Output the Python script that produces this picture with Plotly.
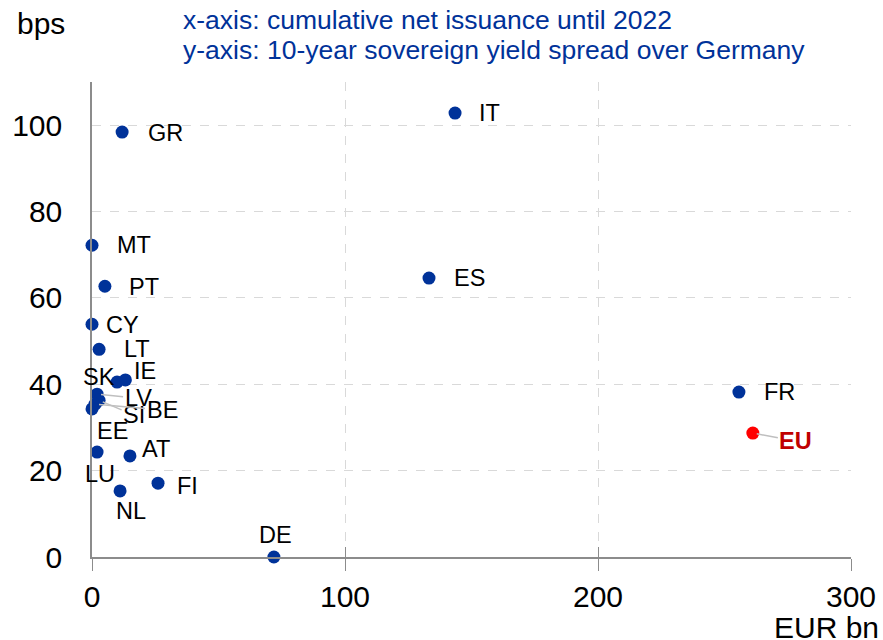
import plotly.graph_objects as go

# ---- data ----
countries = ["IT", "GR", "MT", "ES", "PT", "CY", "LT", "SK", "IE", "LV",
             "SI", "BE", "EE", "LU", "AT", "FI", "NL", "DE", "FR"]
issuance = [143.5, 11.9, 0.0, 133.2, 5.1, 0.0, 2.8, 9.9, 13.2, 2.0,
            2.8, 1.2, 0.0, 2.0, 15.0, 26.1, 11.1, 71.9, 255.7]
spread = [102.8, 98.4, 72.2, 64.6, 62.7, 53.9, 48.1, 40.5, 41.0, 37.7,
          36.3, 35.4, 34.3, 24.3, 23.4, 17.1, 15.3, 0.0, 38.2]
eu_label = ["EU"]
eu_issuance = [261.2]
eu_spread = [28.7]
x_ticks = [0, 100, 200, 300]
y_ticks = [0, 20, 40, 60, 80, 100]

# ---- styles ----
BLUE = "#003299"
FONT = "Arial, Liberation Sans, sans-serif"
GRID = "#d9d9d9"
AXIS = "#8c8c8c"
LBL = 23.5

# label placement: (xanchor, xshift, yshift) in pixels
label_pos = {
    "IT": ("left", 22, 0), "GR": ("left", 24, -1), "MT": ("left", 23, 0),
    "ES": ("left", 23, 0), "PT": ("left", 22, -1), "CY": ("left", 12, -1),
    "LT": ("left", 23, 0), "SK": ("right", 0, 5), "IE": ("left", 7, 9),
    "EE": ("center", 20, -22), "LU": ("center", 3, -22), "AT": ("left", 10, 7),
    "FI": ("left", 17, -3), "NL": ("center", 11, -20), "DE": ("center", 2, 22),
    "FR": ("left", 23, 0),
}
# labels with leader lines: (ax, ay) text-centre offsets in pixels
leader_pos = {"LV": (41, 4), "SI": (35, 15), "BE": (67, 6)}

fig = go.Figure()
fig.add_trace(go.Scatter(
    x=issuance, y=spread, mode="markers", cliponaxis=False,
    marker=dict(color=BLUE, size=13), showlegend=False, hoverinfo="text",
    text=countries))
fig.add_trace(go.Scatter(
    x=eu_issuance, y=eu_spread, mode="markers", cliponaxis=False,
    marker=dict(color="#ff0000", size=13), showlegend=False,
    hoverinfo="text", text=eu_label))

annotations = []
for c, xv, yv in zip(countries, issuance, spread):
    if c in leader_pos:
        ax, ay = leader_pos[c]
        annotations.append(dict(
            x=xv, y=yv, text=c, showarrow=True, arrowhead=0, arrowwidth=1.5,
            arrowcolor="#bfbfbf", ax=ax, ay=ay, standoff=4,
            font=dict(family=FONT, size=LBL, color="black")))
    else:
        xa, xs, ys = label_pos[c]
        annotations.append(dict(
            x=xv, y=yv, text=c, showarrow=False, xanchor=xa, yanchor="middle",
            xshift=xs, yshift=ys,
            font=dict(family=FONT, size=LBL, color="black")))
for c, xv, yv in zip(eu_label, eu_issuance, eu_spread):
    annotations.append(dict(
        x=xv, y=yv, text="<b>" + c + "</b>", showarrow=True, arrowhead=0,
        arrowwidth=1.5, arrowcolor="#bfbfbf", ax=43, ay=8, standoff=4,
        font=dict(family=FONT, size=LBL, color="#c00000")))

# titles
annotations += [
    dict(text="bps", xref="paper", yref="paper", x=-0.102, y=1.0,
         yshift=59, xanchor="left", yanchor="middle", showarrow=False,
         font=dict(family=FONT, size=30, color="black")),
    dict(text="EUR bn", xref="paper", yref="paper", x=1.0, y=0.0,
         xshift=30, yshift=-70, xanchor="right", yanchor="middle",
         showarrow=False, font=dict(family=FONT, size=30, color="black")),
    dict(text="x-axis: cumulative net issuance until 2022", xref="paper",
         yref="paper", x=0.1172, y=1.0, yshift=62, xanchor="left",
         yanchor="middle", showarrow=False,
         font=dict(family=FONT, size=26.5, color=BLUE)),
    dict(text="y-axis: 10-year sovereign yield spread over Germany",
         xref="paper", yref="paper", x=0.1172, y=1.0, yshift=32,
         xanchor="left", yanchor="middle", showarrow=False,
         font=dict(family=FONT, size=26.5, color=BLUE)),
]

fig.update_layout(
    width=883, height=640, autosize=False,
    margin=dict(l=92, r=32, t=82, b=83, autoexpand=False),
    paper_bgcolor="white", plot_bgcolor="white",
    font=dict(family=FONT, size=30, color="black"),
    annotations=annotations,
    xaxis=dict(range=[0, 300], tickvals=x_ticks, showgrid=True,
               gridcolor=GRID, griddash="dash", gridwidth=1, zeroline=False,
               showline=True, linecolor=AXIS, linewidth=2, automargin=False,
               ticks="outside", ticklen=12, tickcolor=AXIS, tickwidth=1,
               tickfont=dict(size=30)),
    xaxis2=dict(range=[0, 300], tickvals=x_ticks, overlaying="x",
                matches="x", anchor="y", side="bottom", ticks="inside",
                ticklen=10, tickcolor=AXIS, tickwidth=1, automargin=False,
                showticklabels=False, showgrid=False, showline=False,
                zeroline=False),
    yaxis=dict(range=[0, 110], tickvals=y_ticks, showgrid=True,
               gridcolor=GRID, griddash="dash", gridwidth=1, zeroline=False,
               showline=True, linecolor=AXIS, linewidth=1.5, ticks="",
               automargin=False,
               ticklabelstandoff=22, tickfont=dict(size=30)),
)
# invisible trace to activate xaxis2
fig.add_trace(go.Scatter(x=[None], y=[None], xaxis="x2", showlegend=False,
                         hoverinfo="skip"))

fig.write_html("out.html", config={"displayModeBar": False},
               post_script="document.body.style.margin='0';"
                           "document.body.style.padding='0';")
